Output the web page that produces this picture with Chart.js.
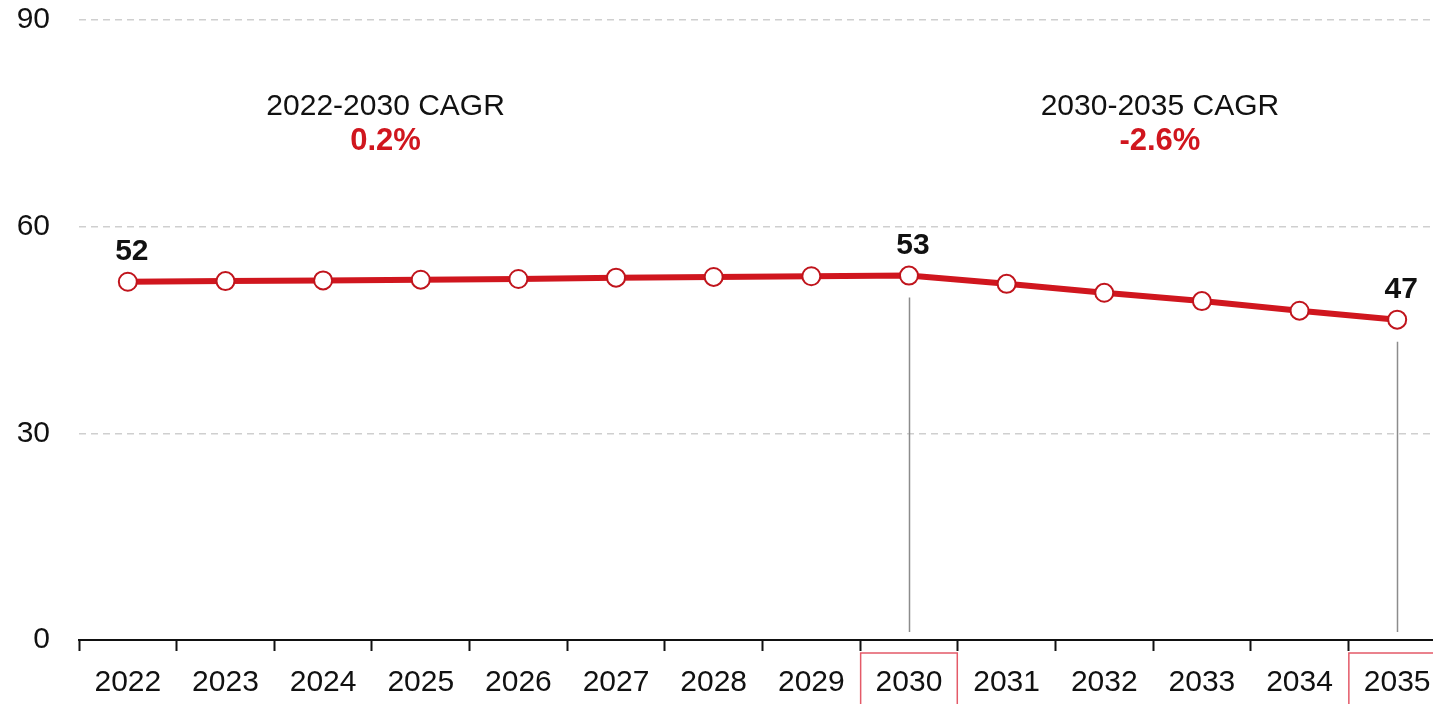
<!DOCTYPE html>
<html>
<head>
<meta charset="utf-8">
<script src="https://cdn.jsdelivr.net/npm/chart.js@4.4.1/dist/chart.umd.min.js"></script>
<style>
  html, body { margin: 0; padding: 0; background: #ffffff; overflow: hidden; }
  #wrap { width: 1460px; height: 704px; }
</style>
</head>
<body>
<div id="wrap"><canvas id="c" width="1460" height="704"></canvas></div>
<script>
// ---- Data ----
const years = ["2022","2023","2024","2025","2026","2027","2028","2029","2030","2031","2032","2033","2034","2035"];
const values = [52.0, 52.1, 52.2, 52.3, 52.4, 52.6, 52.7, 52.8, 52.9, 51.7, 50.4, 49.2, 47.8, 46.5];
const yTicks = [0, 30, 60, 90];
// labelled points (index -> shown label)
const labelledIdx = [0, 8, 13];
const labelledText = ["52", "53", "47"];
// highlighted years (boxed tick labels + drop lines)
const highlightIdx = [8, 13];
// CAGR annotations
const cagrTitles = ["2022-2030 CAGR", "2030-2035 CAGR"];
const cagrValues = ["0.2%", "-2.6%"];
const cagrPosX = [2.64, 10.57];   // position in category-index units
const cagrPosY = [77.4, 72.3];    // title / value rows in axis units

const RED = "#d0161e";
const FONT = "'Liberation Sans', Arial, Helvetica, sans-serif";

const annotationsPlugin = {
  id: 'annos',
  afterDatasetsDraw(chart) {
    const ctx = chart.ctx;
    const xs = chart.scales.x, ys = chart.scales.y;
    ctx.save();
    // drop lines
    ctx.strokeStyle = "#8c8c8c";
    ctx.lineWidth = 1.5;
    highlightIdx.forEach(i => {
      const x = Math.round(xs.getPixelForValue(i)) + 0.5;
      const y0 = ys.getPixelForValue(values[i]) + 22;
      const y1 = ys.getPixelForValue(0) - 8;
      ctx.beginPath(); ctx.moveTo(x, y0); ctx.lineTo(x, y1); ctx.stroke();
    });
    // value labels
    ctx.fillStyle = "#111";
    ctx.font = "bold 30px " + FONT;
    ctx.textAlign = "center";
    ctx.textBaseline = "alphabetic";
    labelledIdx.forEach((i, k) => {
      const x = xs.getPixelForValue(i) + 4;
      const y = ys.getPixelForValue(values[i]) - 22;
      ctx.fillText(labelledText[k], x, y);
    });
    // CAGR texts
    cagrTitles.forEach((t, k) => {
      const x = xs.getPixelForValue(cagrPosX[k]);
      ctx.textBaseline = "middle";
      ctx.fillStyle = "#111";
      ctx.font = "30px " + FONT;
      ctx.fillText(t, x, ys.getPixelForValue(cagrPosY[0]));
      ctx.fillStyle = RED;
      ctx.font = "bold 31px " + FONT;
      ctx.fillText(cagrValues[k], x, ys.getPixelForValue(cagrPosY[1]));
    });
    // boxes around highlighted tick labels
    const step = xs.getPixelForValue(1) - xs.getPixelForValue(0);
    ctx.strokeStyle = "#e45a68";
    ctx.lineWidth = 1.5;
    const top = ys.getPixelForValue(0) + 13;
    highlightIdx.forEach(i => {
      const cx = xs.getPixelForValue(i);
      ctx.strokeRect(cx - step / 2 + 0.5, top, step - 1, 80);
    });
    ctx.restore();
  }
};

new Chart(document.getElementById('c'), {
  type: 'line',
  data: {
    labels: years,
    datasets: [{
      data: values,
      borderColor: RED,
      borderWidth: 6,
      pointRadius: 9,
      pointBorderWidth: 2,
      pointBorderColor: "#c0141c",
      pointBackgroundColor: "#ffffff",
      tension: 0,
      clip: false
    }]
  },
  options: {
    responsive: false,
    animation: false,
    devicePixelRatio: 1,
    layout: { padding: { top: 0, right: 14, left: 0, bottom: 0 } },
    plugins: { legend: { display: false }, tooltip: { enabled: false } },
    scales: {
      x: {
        type: 'category',
        offset: true,
        grid: {
          offset: true,
          drawOnChartArea: false,
          drawTicks: true,
          tickLength: 11,
          tickColor: "#111",
          tickWidth: 2
        },
        border: { display: true, color: "#111", width: 2 },
        ticks: {
          color: "#111",
          font: { family: FONT, size: 30 },
          padding: 14,
          maxRotation: 0,
          autoSkip: false
        },
        afterFit(s) { s.height = 64; }
      },
      y: {
        min: 0, max: 90,
        afterBuildTicks(s) { s.ticks = yTicks.map(v => ({ value: v })); },
        grid: {
          drawTicks: false,
          color: (c) => c.tick && c.tick.value === 0 ? "rgba(0,0,0,0)" : "#cfcfcf",
          lineWidth: 1.5
        },
        border: { display: false, dash: [7, 5] },
        ticks: {
          color: "#111",
          font: { family: FONT, size: 30 },
          padding: 29
        },
        afterFit(s) { s.width = 79; s.paddingTop = 20; s.paddingBottom = 0; }
      }
    }
  },
  plugins: [annotationsPlugin]
});
</script>
</body>
</html>
